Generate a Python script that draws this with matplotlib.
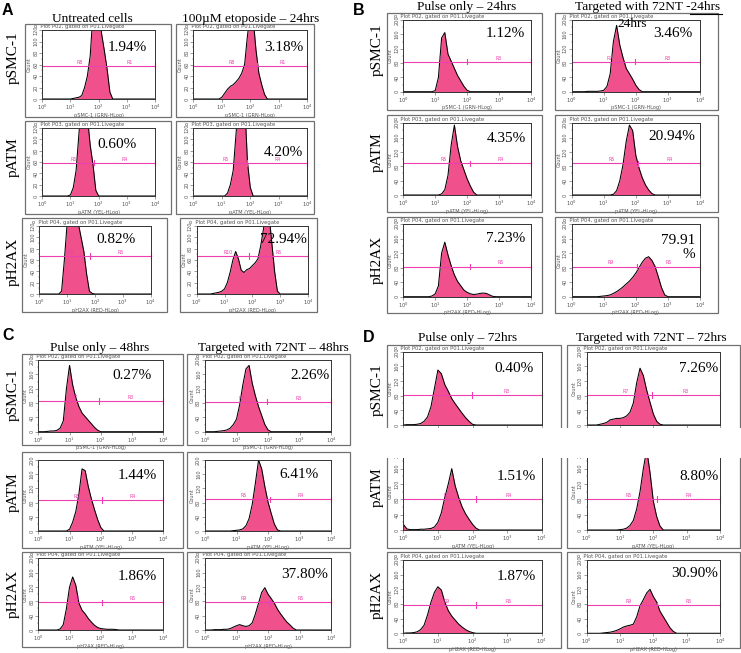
import matplotlib
matplotlib.use('Agg')
import matplotlib.pyplot as plt
import numpy as np
from matplotlib.patches import Rectangle
from matplotlib.lines import Line2D


W, H = 741, 653
GRID = np.linspace(0, 4, 41)   # bin centres, log10 units (10^0 .. 10^4)

FILL = '#f0508c'
GATE = '#ee3fae'
TXT = '#555555'
SERIF = 'Liberation Serif'

# counts read every 0.1 decade, starting at 10^0
A_UNT_SMC = [0] * 11 + [1, 2, 3, 6, 20, 40, 75, 150, 190, 170, 115, 85, 52, 12]
A_UNT_ATM = [0] * 10 + [2, 15, 45, 110, 170, 190, 140, 90, 55, 10]
A_UNT_H2AX = [0] * 8 + [5, 60, 125, 190, 200, 170, 125, 100, 75, 35, 5, 1]
A_ETO_SMC = [0] * 10 + [3, 10, 17, 22, 25, 30, 36, 45, 60, 110, 150, 140, 85, 45, 25, 8]
A_ETO_ATM = [0] * 12 + [5, 20, 45, 110, 180, 200, 170, 60, 15]
A_ETO_H2AX = [0] * 6 + [1, 2, 3, 5, 9, 20, 38, 60, 75, 62, 42, 38, 43, 45, 50, 55,
                        62, 85, 115, 150, 140, 90, 40, 5]

B_P24_SMC = [0] * 10 + [3, 40, 150, 165, 105, 85, 65, 45, 30, 15, 4]
B_P24_ATM = [0] * 12 + [3, 15, 55, 140, 195, 135, 95, 70, 45, 25, 8]
B_P24_H2AX = [0] * 9 + [2, 8, 30, 120, 150, 115, 85, 60, 42, 30, 18, 12, 8, 6, 7, 9, 10, 9, 5, 1]
B_T24_SMC = [0] * 5 + [1, 1, 1, 1, 2, 4, 15, 50, 140, 185, 130, 95, 65, 50, 35, 18, 6]
B_T24_ATM = [0] * 13 + [2, 12, 40, 85, 150, 195, 180, 110, 75, 48, 28, 14, 4]
B_T24_H2AX = [0] * 9 + [1, 2, 3, 5, 9, 14, 20, 27, 35, 43, 53, 65, 80, 95, 106, 110,
                        100, 83, 55, 25, 5]

C_P48_SMC = [0] * 3 + [1, 2, 2, 4, 10, 30, 120, 185, 130, 95, 70, 52, 42, 32, 22, 12, 4]
C_P48_ATM = [0] * 10 + [5, 25, 55, 105, 175, 170, 125, 90, 60, 32, 10]
C_P48_H2AX = [0] * 7 + [3, 15, 60, 120, 148, 125, 75, 55, 45, 32, 22, 13, 7, 4, 3, 2, 2, 2, 1]
C_T48_SMC = [0] * 4 + [1, 2, 3, 5, 10, 20, 35, 75, 130, 175, 185, 135, 100, 70, 45, 20, 5]
C_T48_ATM = [0] * 9 + [1, 2, 3, 6, 15, 35, 75, 135, 200, 175, 125, 82, 50, 20, 3]
C_T48_H2AX = [0] * 3 + [1, 1, 1, 2, 2, 4, 8, 12, 15, 12, 10, 12, 20, 45, 75, 105, 118,
                        100, 88, 75, 58, 45, 33, 22, 14, 5]

D_P72_SMC = [0] + [1, 1, 1, 2, 4, 10, 22, 50, 100, 150, 140, 110, 92, 72, 58, 45, 32, 20, 10, 2]
D_P72_ATM = [15, 3, 1, 1, 1, 2, 2, 3, 4, 8, 20, 45, 85, 120, 160, 115, 85, 60, 42, 28, 15, 5]
D_P72_H2AX = [0] + [1, 1, 2, 4, 10, 22, 50, 85, 112, 127, 118, 85, 62, 47, 36, 25, 17, 10, 5, 2]
D_T72_SMC = [0] * 4 + [2, 4, 7, 14, 16, 18, 18, 20, 25, 35, 60, 115, 155, 135, 95, 62, 30, 10, 2]
D_T72_ATM = [0] * 10 + [1, 2, 5, 12, 25, 55, 100, 160, 210, 150, 75, 35, 10]
D_T72_H2AX = [0] * 5 + [1, 2, 3, 5, 8, 12, 17, 20, 22, 25, 45, 75, 92, 110, 120, 100,
                        85, 60, 45, 30, 15, 5]

# order: left column top->bottom, then right column top->bottom
HIST_A = [A_UNT_SMC, A_UNT_ATM, A_UNT_H2AX, A_ETO_SMC, A_ETO_ATM, A_ETO_H2AX]
HIST_B = [B_P24_SMC, B_P24_ATM, B_P24_H2AX, B_T24_SMC, B_T24_ATM, B_T24_H2AX]
HIST_C = [C_P48_SMC, C_P48_ATM, C_P48_H2AX, C_T48_SMC, C_T48_ATM, C_T48_H2AX]
HIST_D = [D_P72_SMC, D_P72_ATM, D_P72_H2AX, D_T72_SMC, D_T72_ATM, D_T72_H2AX]

GATE_A = [2.22, 1.83, 1.82, 2.25, 1.90, 1.88]
GATE_B = [1.98, 2.09, 2.09, 1.97, 2.08, 2.03]
GATE_C = [1.94, 2.03, 2.03, 1.96, 2.06, 2.06]
GATE_D = [1.98, 2.10, 2.10, 1.95, 2.10, 2.10]

LEVEL_A = [57, 59, 67, 57, 58, 67]
LEVEL_B = [84, 88, 83, 84, 88, 83]
LEVEL_C = [86, 87, 77, 84, 89, 79]
LEVEL_D = [82, 80, 77, 82, 80, 77]

PCT_A = ['1.94%', '0.60%', '0.82%', '3.18%', '4.20%', '72.94%']
PCT_B = ['1.12%', '4.35%', '7.23%', '3.46%', '20.94%', '79.91\n%']
PCT_C = ['0.27%', '1.44%', '1.86%', '2.26%', '6.41%', '37.80%']
PCT_D = ['0.40%', '1.51%', '1.87%', '7.26%', '8.80%', '30.90%']

TITLES_A = ['Untreated cells', '100\u00b5M etoposide \u2013 24hrs']
TITLES_B = ['Pulse only \u2013 24hrs', 'Targeted with 72NT -24hrs']
TITLES_C = ['Pulse only \u2013 48hrs', 'Targeted with 72NT \u2013 48hrs']
TITLES_D = ['Pulse only \u2013 72hrs', 'Targeted with 72NT \u2013 72hrs']

ROWS = ['pSMC-1', 'pATM', 'pH2AX']
HEADERS = ['Plot P02, gated on P01.Livegate', 'Plot P03, gated on P01.Livegate',
           'Plot P04, gated on P01.Livegate']
XLABELS = ['pSMC-1 (GRN-HLog)', 'pATM (YEL-HLog)', 'pH2AX (RED-HLog)']
GATE_NAMES_A = [('R8', 'R1'), ('R5', 'R4'), ('R10', 'R5')]
GATE_NAMES = [('R7', 'R3'), ('R5', 'R4'), ('R9', 'R5')]


def px_rect(x0, y0, x1, y1):
    return [x0 / W, 1 - y1 / H, (x1 - x0) / W, (y1 - y0) / H]


def box(fig, x0, y0, x1, y1):
    r = px_rect(x0, y0, x1, y1)
    fig.add_artist(Rectangle((r[0], r[1]), r[2], r[3], transform=fig.transFigure,
                             fill=False, ec='#707070', lw=0.9))


def ftext(fig, x, y, s, **kw):
    fig.text(x / W, 1 - y / H, s, **kw)


def draw_hist(ax, counts, ymax, ystep, gate, level, names, pct, pct_pos, row, header=True):
    y = np.zeros(len(GRID))
    y[:len(counts)] = counts
    ax.fill_between(GRID, y, color=FILL, lw=0)
    ax.plot(GRID, y, color='black', lw=0.75)

    ax.set_xlim(0, 4)
    ax.set_ylim(0, ymax)
    ax.set_xticks(range(5))
    ax.set_xticklabels(['$10^{%d}$' % i for i in range(5)], fontsize=3.8, color=TXT)
    minors = [d + np.log10(k) for d in range(4) for k in range(2, 10)]
    ax.set_xticks(minors, minor=True)
    ax.set_yticks(range(0, ymax + 1, ystep))
    ax.set_yticklabels([str(v) for v in range(0, ymax + 1, ystep)], fontsize=3.6,
                       rotation=90, va='center', color=TXT)
    ax.set_yticks(range(0, ymax + 1, ystep // 2), minor=True)
    ax.tick_params(length=2, width=0.4, pad=0.8, colors=TXT)
    ax.tick_params(which='minor', length=1, width=0.3, colors=TXT)
    ax.set_ylabel('Count', fontsize=3.6, labelpad=1, color=TXT)
    ax.set_xlabel(XLABELS[row], fontsize=3.6, labelpad=0.3, color=TXT)
    for s in ax.spines.values():
        s.set_linewidth(0.7)
        s.set_color('#333333')

    if header:
        ax.text(-0.07, 1.015, 'o  ' + HEADERS[row], transform=ax.transAxes,
                fontsize=3.8, color=TXT, va='bottom', ha='left')

    bar = ymax * 0.04
    ax.plot([0, gate], [level, level], color=GATE, lw=0.8)
    ax.plot([gate, 4], [level, level], color=GATE, lw=0.8)
    ax.plot([gate, gate], [level - bar, level + bar], color=GATE, lw=0.8)
    ax.plot([4, 4], [level - bar, level + bar], color=GATE, lw=0.8, clip_on=False)
    ax.text(gate * 0.6, level + ymax * 0.015, names[0], fontsize=3.4, color=GATE,
            ha='center', va='bottom')
    ax.text((gate + 4) / 2, level + ymax * 0.015, names[1], fontsize=3.4, color=GATE,
            ha='center', va='bottom')

    if '\n' in pct:
        ax.text(pct_pos[0], pct_pos[1], pct, transform=ax.transAxes, fontsize=11,
                family=SERIF, ha='right', va='center', multialignment='right',
                linespacing=1.15)
    else:
        ax.text(pct_pos[0], pct_pos[1], pct, transform=ax.transAxes, fontsize=11,
                family=SERIF, ha='center', va='center')


def draw_panel(fig, hists, gates, levels, pcts, pct_pos, axes_px, boxes_px, names,
               ymax, ystep, no_header=()):
    for i in range(6):
        row = i % 3
        box(fig, *boxes_px[i])
        ax = fig.add_axes(px_rect(*axes_px[i]))
        draw_hist(ax, hists[i], ymax, ystep, gates[i], levels[i], names[row], pcts[i],
                  pct_pos[i], row, header=i not in no_header)


def main():
    fig = plt.figure(figsize=(W / 100, H / 100), dpi=100)

    # ---- A
    axes_a = [(42.3, 30, 155, 99), (42.3, 128, 155, 196), (39.3, 226, 150.7, 294),
              (193.3, 30, 307.3, 99), (193.3, 128, 307.3, 196), (196.7, 226, 308, 294)]
    boxes_a = [(25, 24, 171, 117), (25, 121, 171, 214), (22, 218, 167, 312),
               (176, 24, 314, 117), (176, 121, 314, 214), (180, 218, 317, 312)]
    pos_a = [(0.75, 0.74), (0.66, 0.76), (0.69, 0.80), (0.79, 0.74), (0.79, 0.64), (0.78, 0.80)]
    draw_panel(fig, HIST_A, GATE_A, LEVEL_A, PCT_A, pos_a, axes_a, boxes_a, GATE_NAMES_A, 120, 20)

    # ---- B
    axes_b = [(403.3, 20, 531, 91.7), (403.3, 123.3, 531, 195), (403.3, 224, 531, 296.7),
              (571.7, 20, 700, 91.7), (571.7, 123.3, 700, 195), (571.7, 224, 700, 296.7)]
    boxes_b = [(386.7, 12.7, 541.7, 110), (386.7, 115, 541.7, 211.7), (386.7, 216.7, 541.7, 313.3),
               (555, 12.7, 718.3, 110), (555, 115, 718.3, 211.7), (555, 216.7, 718.3, 313.3)]
    pos_b = [(0.80, 0.81), (0.81, 0.79), (0.80, 0.80), (0.79, 0.81), (0.78, 0.81), (0.96, 0.68)]
    draw_panel(fig, HIST_B, GATE_B, LEVEL_B, PCT_B, pos_b, axes_b, boxes_b, GATE_NAMES, 200, 40)

    # ---- C
    axes_c = [(38.3, 360, 163.3, 431.7), (38.3, 460, 163.3, 531), (38.3, 558.3, 163.3, 630),
              (205, 360, 331, 431.7), (205, 460, 331, 531), (205, 558.3, 331, 630)]
    boxes_c = [(21.7, 354.3, 182.7, 445), (21.7, 451.7, 182.7, 548.3), (21.7, 552.3, 182.7, 646.7),
               (186.7, 354.3, 350, 445), (186.7, 451.7, 350, 548.3), (186.7, 552.3, 350, 646.7)]
    pos_c = [(0.75, 0.78), (0.79, 0.78), (0.79, 0.74), (0.83, 0.78), (0.75, 0.80), (0.79, 0.77)]
    draw_panel(fig, HIST_C, GATE_C, LEVEL_C, PCT_C, pos_c, axes_c, boxes_c, GATE_NAMES, 200, 40,
               no_header=(1, 4))

    # ---- D
    axes_d = [(403.3, 351.7, 541.7, 425), (403.3, 453.3, 541.7, 530), (403.3, 560, 541.7, 633.3),
              (586.7, 351.7, 720, 425), (586.7, 453.3, 720, 530), (586.7, 560, 720, 633.3)]
    boxes_d = [(386.7, 345, 561, 445), (386.7, 440, 561, 548.3), (386.7, 551.7, 561, 648.3),
               (566.7, 345, 740, 445), (566.7, 440, 740, 548.3), (566.7, 551.7, 740, 648.3)]
    pos_d = [(0.80, 0.77), (0.82, 0.70), (0.82, 0.77), (0.84, 0.77), (0.84, 0.70), (0.81, 0.82)]
    draw_panel(fig, HIST_D, GATE_D, LEVEL_D, PCT_D, pos_d, axes_d, boxes_d, GATE_NAMES, 200, 40)

    # the source image has a blank strip cutting through panel D
    r = px_rect(380, 428.3, 741, 458.3)
    fig.add_artist(Rectangle((r[0], r[1]), r[2], r[3], transform=fig.transFigure,
                             fc='white', ec='none', zorder=20))

    # titles
    for xs, y, titles in [((92, 251), 19, TITLES_A), ((467, 648), 7, TITLES_B),
                          ((99.5, 273.5), 347.5, TITLES_C), ((468, 651), 337.5, TITLES_D)]:
        for x, t in zip(xs, titles):
            ftext(fig, x, y, t, family=SERIF, fontsize=9.6, ha='center', va='center')
    ftext(fig, 632, 24, '24hrs', family=SERIF, fontsize=9.6, ha='center', va='center', zorder=30)
    fig.add_artist(Line2D([690 / W, 722 / W], [1 - 13.5 / H, 1 - 13.5 / H],
                          transform=fig.transFigure, color='black', lw=0.8))

    # row labels
    for x, ys in [(13, (58, 157, 262)), (377, (50, 152, 260)),
                  (13, (395, 492, 594)), (377, (390, 487, 595))]:
        for y, name in zip(ys, ROWS):
            ftext(fig, x, y, name, family=SERIF, fontsize=11, rotation=90,
                  ha='center', va='center', zorder=30)

    # panel letters
    for x, y, letter in [(2, 3, 'A'), (353, 3, 'B'), (2, 328, 'C'), (363, 330, 'D')]:
        ftext(fig, x, y, letter, family='Liberation Sans', fontweight='bold', fontsize=11.5,
              ha='left', va='top', zorder=30)

    fig.savefig('out.png', dpi=100)


if __name__ == '__main__':
    main()
